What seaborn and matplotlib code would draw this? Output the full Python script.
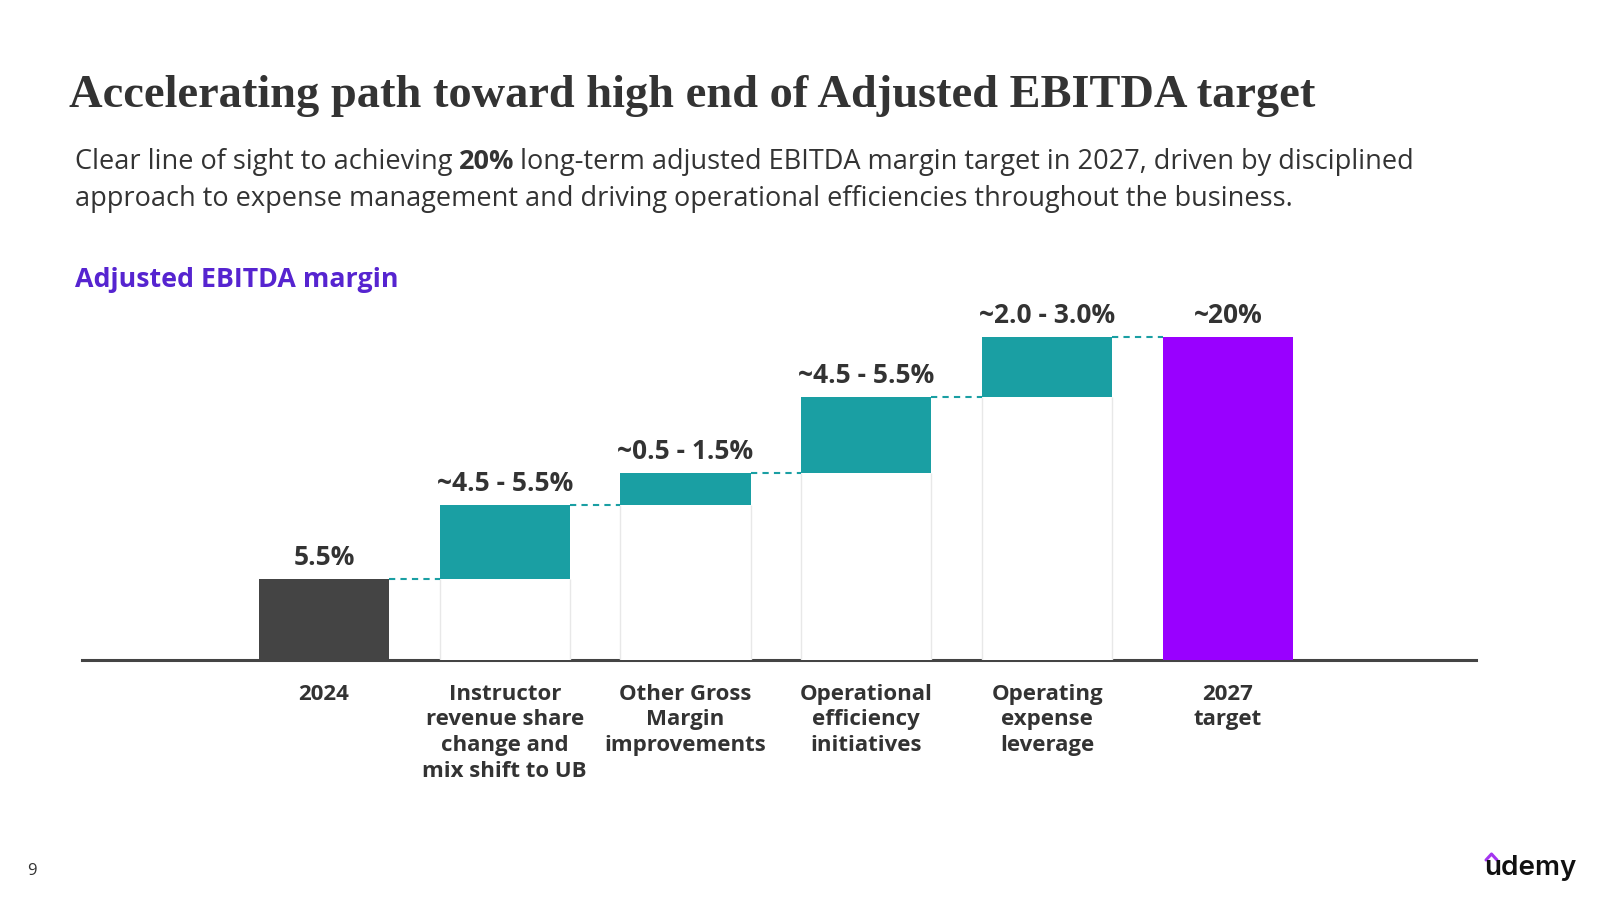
import matplotlib
matplotlib.use("Agg")
import matplotlib.pyplot as plt
from matplotlib.lines import Line2D
import seaborn as sns
import numpy as np

# chart data (adjusted EBITDA margin, %)
categories = [
    "2024",
    "Instructor\nrevenue share\nchange and\nmix shift to UB",
    "Other Gross\nMargin\nimprovements",
    "Operational\nefficiency\ninitiatives",
    "Operating\nexpense\nleverage",
    "2027\ntarget",
]
start_value = 5.0
step_values = [4.6, 2.0, 4.7, 3.7]
target_value = 20.0
value_labels = ["5.5%", "~4.5 - 5.5%", "~0.5 - 1.5%", "~4.5 - 5.5%", "~2.0 - 3.0%", "~20%"]

DARK = "#444444"
TEAL = "#1a9fa3"
PURPLE = "#9900ff"
TXT = "#333333"
bar_colors = [DARK, TEAL, TEAL, TEAL, TEAL, PURPLE]

cum = np.cumsum([start_value] + step_values)
tops = list(cum) + [target_value]
bottoms = [0.0] + list(cum[:-1]) + [0.0]

sns.set_style("white")
plt.rcParams["font.family"] = ["Open Sans", "DejaVu Sans"]

W, H = 1600, 900
fig = plt.figure(figsize=(16, 9), dpi=100)

# axes: baseline at y=660px, spanning x 82..1476px
ax = fig.add_axes([82 / W, (H - 660) / H, 1394 / W, 360 / H])
bw = 0.72

sns.barplot(x=categories, y=tops, hue=categories, palette=bar_colors, legend=False,
            saturation=1, width=bw, linewidth=0, ax=ax, zorder=2)
sns.barplot(x=categories, y=bottoms, color="white", saturation=1, width=bw,
            linewidth=0, ax=ax, zorder=3)

# light gray edges of the hidden support bars
for p in ax.patches[len(categories):]:
    h = p.get_height()
    if h > 0:
        ax.vlines([p.get_x(), p.get_x() + p.get_width()], 0, h,
                  color="#e8e8e8", lw=1.0, zorder=4)

# dashed connectors
for i in range(len(categories) - 1):
    ax.plot([i + bw / 2, i + 1 - bw / 2], [tops[i], tops[i]], color=TEAL,
            lw=1.5, ls=(0, (3, 2.5)), zorder=4)

# value labels
for i, lab in enumerate(value_labels):
    ax.annotate(lab, (i, tops[i]), xytext=(0, 10), textcoords="offset points",
                ha="center", va="baseline", fontsize=19, fontweight="bold", color=TXT)

ax.set_xlim(-1.338, 6.372)
ax.set_ylim(0, 22.3)
ax.set_yticks([])
ax.set_xlabel("")
ax.set_ylabel("")
for s in ["top", "left", "right"]:
    ax.spines[s].set_visible(False)
ax.spines["bottom"].set_color(DARK)
ax.spines["bottom"].set_linewidth(2.2)
ax.spines["bottom"].set_zorder(1)
ax.tick_params(axis="x", length=0, pad=17)
for t in ax.get_xticklabels():
    t.set_fontsize(16)
    t.set_fontweight("bold")
    t.set_color(TXT)
    t.set_linespacing(1.3)

# titles
fig.text(69 / W, 1 - 107 / H, "Accelerating path toward high end of Adjusted EBITDA target",
         family=["Liberation Serif", "DejaVu Serif"], fontweight="bold", fontsize=33.4,
         color=TXT, va="baseline", ha="left")

r = fig.canvas.get_renderer()
y1 = 1 - 169 / H
t1 = fig.text(75 / W, y1, "Clear line of sight to achieving", fontsize=19.5, color=TXT, va="baseline")
x = t1.get_window_extent(r).x1 + 7
t2 = fig.text(x / W, y1, "20%", fontsize=19.5, fontweight="bold", color=TXT, va="baseline")
x = t2.get_window_extent(r).x1 + 5
fig.text(x / W, y1, "long-term adjusted EBITDA margin target in 2027, driven by disciplined",
         fontsize=19.5, color=TXT, va="baseline")
fig.text(75 / W, 1 - 206 / H,
         "approach to expense management and driving operational efficiencies throughout the business.",
         fontsize=19.5, color=TXT, va="baseline")

fig.text(75 / W, 1 - 287 / H, "Adjusted EBITDA margin", fontsize=19.3, fontweight="bold",
         color="#5624d0", va="baseline")

# footer
fig.text(27 / W, 1 - 875 / H, "9", fontsize=12, color=TXT, va="baseline")
fig.text(1484 / W, 1 - 875 / H, "udemy", family=["Inter", "DejaVu Sans"], fontsize=20,
         fontweight="semibold", color="#111111", va="baseline")
fig.add_artist(Line2D([1486 / W, 1491.5 / W, 1497 / W], [1 - 860 / H, 1 - 854 / H, 1 - 860 / H],
                      color="#a435f0", lw=2.2, transform=fig.transFigure))

fig.savefig("out.png", dpi=100, facecolor="white")
